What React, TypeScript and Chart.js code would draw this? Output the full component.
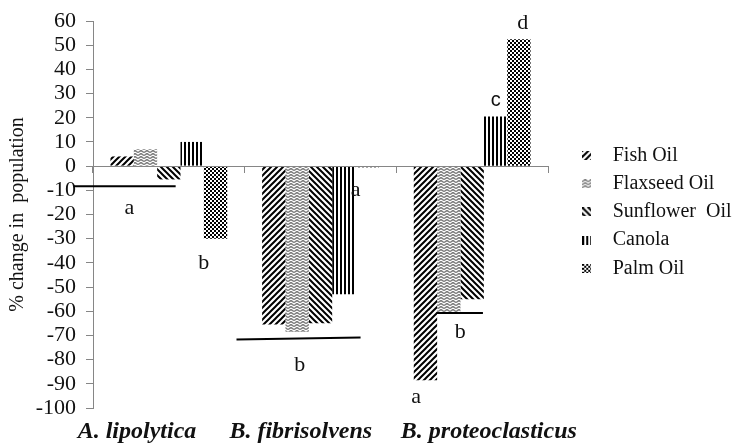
import React, { useEffect, useRef } from 'react';
import { Chart, registerables } from 'chart.js';

Chart.register(...registerables);

// ---------- data ----------
const categories = ['A. lipolytica', 'B. fibrisolvens', 'B. proteoclasticus'];
const seriesNames = ['Fish Oil', 'Flaxseed Oil', 'Sunflower  Oil', 'Canola', 'Palm Oil'];
const fishOil = [4, -65.5, -88.5];
const flaxseedOil = [7, -68.5, -60.5];
const sunflowerOil = [-5.5, -65, -55];
const canola = [10, -53, 20.5];
const palmOil = [-30, -0.5, 52.5];
const yMin = -100;
const yMax = 60;
const yStep = 10;
const yTitle = '% change in  population';

// significance letters (category index + offset in category widths, value on y axis)
const sigLetters = [
  { text: 'a', cat: 0, dx: -0.26, value: -17.5, sans: false },
  { text: 'b', cat: 0, dx: 0.23, value: -40, sans: false },
  { text: 'a', cat: 1, dx: 0.232, value: -10, sans: false },
  { text: 'b', cat: 1, dx: -0.137, value: -82.5, sans: false },
  { text: 'a', cat: 2, dx: -0.37, value: -95.5, sans: false },
  { text: 'b', cat: 2, dx: -0.078, value: -68.5, sans: false },
  { text: 'c', cat: 2, dx: 0.155, value: 27, sans: true },
  { text: 'd', cat: 2, dx: 0.333, value: 59, sans: false },
];
// significance bars
const sigLines = [
  { cat: 0, dx0: -0.628, dx1: 0.045, v0: -8.3, v1: -8.3 },
  { cat: 1, dx0: -0.554, dx1: 0.264, v0: -71.7, v1: -70.9 },
  { cat: 2, dx0: -0.235, dx1: 0.071, v0: -60.7, v1: -60.7 },
];
// horizontal shift of each category caption (in category widths)
const captionShift = [-0.21, -0.13, 0.11];

// ---------- styling ----------
const SERIF = '"Liberation Serif", "Times New Roman", serif';
const AXIS_GRAY = '#868686';
const TEXT = '#111111';
const LEGEND_SHIFT = 14.5;

function tile(w: number, h: number, draw: (g: CanvasRenderingContext2D) => void) {
  const c = document.createElement('canvas');
  c.width = w;
  c.height = h;
  const g = c.getContext('2d')!;
  g.fillStyle = '#ffffff';
  g.fillRect(0, 0, w, h);
  draw(g);
  return c;
}

function buildTiles() {
  const fish = tile(6, 6, (g) => {
    g.strokeStyle = '#000';
    g.lineWidth = 2;
    g.beginPath();
    g.moveTo(-1, 7); g.lineTo(7, -1);
    g.moveTo(-1, 1); g.lineTo(1, -1);
    g.moveTo(5, 7); g.lineTo(7, 5);
    g.stroke();
  });
  const flax = tile(6, 3, (g) => {
    g.strokeStyle = '#7d7d7d';
    g.lineWidth = 1.4;
    g.beginPath();
    g.moveTo(0, 2.6); g.lineTo(3, 0.4); g.lineTo(6, 2.6);
    g.stroke();
  });
  const sun = tile(6, 6, (g) => {
    g.strokeStyle = '#000';
    g.lineWidth = 2;
    g.beginPath();
    g.moveTo(-1, -1); g.lineTo(7, 7);
    g.moveTo(5, -1); g.lineTo(7, 1);
    g.moveTo(-1, 5); g.lineTo(1, 7);
    g.stroke();
  });
  const can = tile(4, 1, (g) => {
    g.fillStyle = '#000';
    g.fillRect(0, 0, 2, 1);
  });
  const palm = tile(4, 4, (g) => {
    g.fillStyle = '#000';
    g.fillRect(0, 0, 2, 2);
    g.fillRect(2, 2, 2, 2);
  });
  return [fish, flax, sun, can, palm];
}

function iconFrom(t: HTMLCanvasElement) {
  const c = document.createElement('canvas');
  c.width = 9;
  c.height = 9;
  const g = c.getContext('2d')!;
  g.fillStyle = g.createPattern(t, 'repeat')!;
  g.fillRect(0, 0, 9, 9);
  return c;
}

const marksPlugin = {
  id: 'sigMarks',
  afterLayout(chart: any) {
    const lg = chart.legend;
    if (lg) {
      lg.left += LEGEND_SHIFT;
      lg.right = chart.width;
      lg.width = lg.right - lg.left;
      lg.top -= 2.6;
      lg.bottom -= 2.6;
    }
  },
  afterDatasetsDraw(chart: any) {
    const { ctx, chartArea } = chart;
    const x = chart.scales.x;
    const y = chart.scales.y;
    ctx.save();
    ctx.strokeStyle = '#000';
    ctx.lineWidth = 2;
    for (const l of sigLines) {
      ctx.beginPath();
      ctx.moveTo(x.getPixelForValue(l.cat + l.dx0), y.getPixelForValue(l.v0));
      ctx.lineTo(x.getPixelForValue(l.cat + l.dx1), y.getPixelForValue(l.v1));
      ctx.stroke();
    }
    ctx.textAlign = 'center';
    ctx.textBaseline = 'middle';
    ctx.fillStyle = TEXT;
    for (const t of sigLetters) {
      ctx.font = t.sans ? '20px "Liberation Sans", Arial, sans-serif' : `22px ${SERIF}`;
      ctx.fillText(t.text, x.getPixelForValue(t.cat + t.dx), y.getPixelForValue(t.value));
    }
    const w = (x.right - x.left) / categories.length;
    ctx.font = `bold italic 24px ${SERIF}`;
    categories.forEach((c, i) => {
      ctx.fillText(c, x.getPixelForValue(i) + captionShift[i] * w, chartArea.bottom + 24);
    });
    ctx.restore();
  },
};

export default function App() {
  const ref = useRef<HTMLCanvasElement>(null);
  useEffect(() => {
    document.body.style.margin = '0';
    const canvas = ref.current!;
    const g = canvas.getContext('2d')!;
    const tiles = buildTiles();
    const patterns = tiles.map((t) => g.createPattern(t, 'repeat')!);
    const icons = tiles.map(iconFrom);
    const series = [fishOil, flaxseedOil, sunflowerOil, canola, palmOil];

    const chart = new Chart(canvas, {
      type: 'bar',
      data: {
        labels: categories,
        datasets: series.map((d, i) => ({
          label: seriesNames[i],
          data: d,
          backgroundColor: patterns[i] as any,
          borderWidth: 0,
          categoryPercentage: 0.77,
          barPercentage: 1,
        })),
      },
      options: {
        animation: false,
        responsive: true,
        maintainAspectRatio: false,
        layout: { padding: { top: 21, right: 43, bottom: 38, left: 0 } },
        scales: {
          x: {
            position: { y: 0 } as any,
            grid: {
              display: true,
              drawOnChartArea: false,
              drawTicks: true,
              tickLength: 6,
              color: AXIS_GRAY,
              offset: true,
            },
            border: { display: true, color: AXIS_GRAY, width: 1, z: 1 },
            ticks: { display: false },
          },
          y: {
            min: yMin,
            max: yMax,
            afterFit(scale: any) {
              scale.width = 93;
            },
            ticks: {
              stepSize: yStep,
              autoSkip: false,
              color: TEXT,
              padding: 10,
              font: { family: SERIF, size: 22, lineHeight: 1 },
            },
            grid: {
              drawOnChartArea: false,
              drawTicks: true,
              tickLength: 7,
              color: AXIS_GRAY,
            },
            border: { display: true, color: AXIS_GRAY, width: 1 },
            title: {
              display: true,
              text: yTitle,
              color: TEXT,
              font: { family: SERIF, size: 20 },
              padding: { top: 6, bottom: 0 },
            },
          },
        },
        plugins: {
          tooltip: { enabled: false },
          legend: {
            position: 'right',
            maxWidth: 150,
            labels: {
              color: TEXT,
              font: { family: SERIF, size: 20 },
              padding: 8.2,
              usePointStyle: true,
              pointStyleWidth: 32,
              generateLabels: (ch: any) =>
                Chart.defaults.plugins.legend.labels
                  .generateLabels(ch)
                  .map((it: any, i: number) => ({ ...it, pointStyle: icons[i], lineWidth: 0 })),
            },
          },
        },
      },
      plugins: [marksPlugin],
    });
    return () => chart.destroy();
  }, []);

  return (
    <div style={{ width: 741, height: 446, position: 'relative' }}>
      <canvas ref={ref} />
    </div>
  );
}
